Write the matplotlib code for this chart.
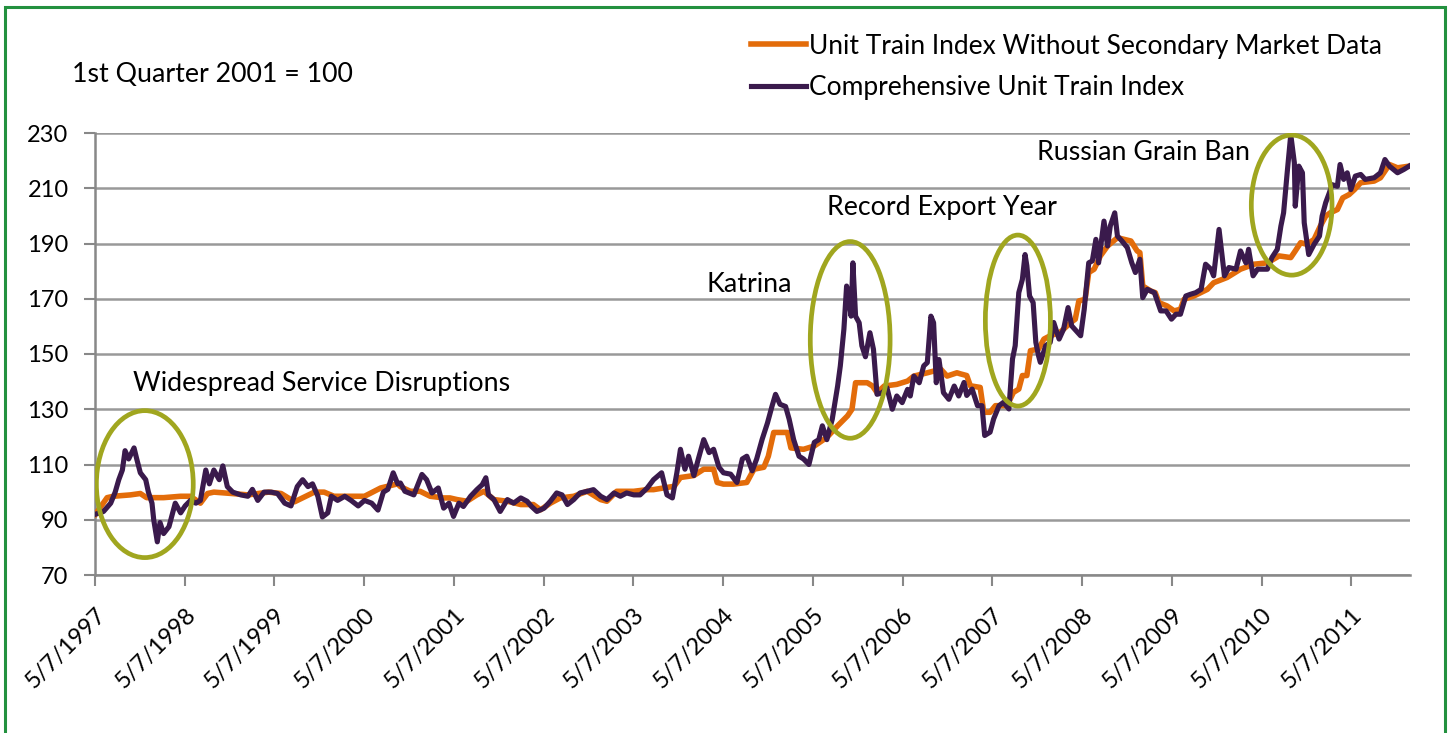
import datetime as dt
import matplotlib
matplotlib.use("Agg")
import matplotlib.pyplot as plt
import matplotlib.dates as mdates
from matplotlib.patches import Ellipse, Rectangle

# values, x as decimal years
comp_years = [1997.35, 1997.44, 1997.52, 1997.57, 1997.61, 1997.65, 1997.68, 1997.72, 1997.78, 1997.81,
              1997.85, 1997.91, 1997.94, 1997.98, 1998.00, 1998.04, 1998.07, 1998.11, 1998.17, 1998.24,
              1998.30, 1998.35, 1998.41, 1998.47, 1998.52, 1998.58, 1998.62, 1998.67, 1998.73, 1998.77,
              1998.82, 1998.88, 1998.97, 1999.05, 1999.10, 1999.16, 1999.23, 1999.31, 1999.38, 1999.46,
              1999.53, 1999.60, 1999.66, 1999.72, 1999.77, 1999.83, 1999.88, 1999.94, 1999.98, 2000.05,
              2000.13, 2000.20, 2000.28, 2000.35, 2000.43, 2000.50, 2000.56, 2000.61, 2000.67, 2000.72,
              2000.75, 2000.80, 2000.90, 2000.99, 2001.04, 2001.10, 2001.17, 2001.23, 2001.29, 2001.34,
              2001.40, 2001.45, 2001.53, 2001.60, 2001.66, 2001.70, 2001.73, 2001.79, 2001.86, 2001.94,
              2002.01, 2002.09, 2002.16, 2002.21, 2002.27, 2002.35, 2002.42, 2002.49, 2002.55, 2002.61,
              2002.68, 2002.75, 2002.83, 2002.90, 2002.98, 2003.05, 2003.13, 2003.20, 2003.27, 2003.35,
              2003.42, 2003.50, 2003.57, 2003.66, 2003.72, 2003.78, 2003.83, 2003.87, 2003.92, 2003.96,
              2004.02, 2004.07, 2004.13, 2004.19, 2004.24, 2004.30, 2004.35, 2004.43, 2004.50, 2004.56,
              2004.61, 2004.67, 2004.72, 2004.78, 2004.84, 2004.89, 2004.93, 2004.98, 2005.04, 2005.08,
              2005.13, 2005.19, 2005.24, 2005.30, 2005.36, 2005.41, 2005.45, 2005.50, 2005.56, 2005.62,
              2005.65, 2005.69, 2005.72, 2005.75, 2005.77, 2005.79, 2005.82, 2005.86, 2005.89, 2005.93,
              2005.98, 2006.02, 2006.06, 2006.12, 2006.17, 2006.23, 2006.28, 2006.34, 2006.40, 2006.43,
              2006.47, 2006.53, 2006.58, 2006.62, 2006.66, 2006.69, 2006.72, 2006.75, 2006.80, 2006.86,
              2006.92, 2006.97, 2007.03, 2007.06, 2007.12, 2007.18, 2007.23, 2007.26, 2007.32, 2007.36,
              2007.42, 2007.47, 2007.53, 2007.57, 2007.60, 2007.64, 2007.68, 2007.71, 2007.73, 2007.76,
              2007.80, 2007.83, 2007.86, 2007.88, 2007.94, 2007.99, 2008.03, 2008.09, 2008.14, 2008.19,
              2008.23, 2008.33, 2008.37, 2008.42, 2008.46, 2008.50, 2008.53, 2008.59, 2008.63, 2008.66,
              2008.71, 2008.74, 2008.79, 2008.85, 2008.90, 2008.94, 2008.99, 2009.02, 2009.07, 2009.15,
              2009.22, 2009.28, 2009.34, 2009.39, 2009.44, 2009.50, 2009.55, 2009.61, 2009.67, 2009.72,
              2009.78, 2009.81, 2009.87, 2009.93, 2009.98, 2010.06, 2010.11, 2010.17, 2010.20, 2010.25,
              2010.30, 2010.35, 2010.41, 2010.46, 2010.52, 2010.56, 2010.59, 2010.63, 2010.67, 2010.71,
              2010.72, 2010.76, 2010.80, 2010.82, 2010.87, 2010.93, 2010.99, 2011.02, 2011.06, 2011.10,
              2011.13, 2011.19, 2011.22, 2011.26, 2011.30, 2011.34, 2011.39, 2011.45, 2011.50, 2011.60,
              2011.67, 2011.72, 2011.77, 2011.86, 2011.93, 2011.99]
comp_vals = [92, 93, 96, 100, 104.5, 108, 115, 112, 116, 112,
             107, 104.5, 100, 96, 90, 82, 89, 85, 87.5, 96,
             92.5, 95, 97, 96, 97, 108, 103, 108, 104.5, 109.5,
             102, 100, 99, 98.5, 101, 97, 100, 100, 99.5, 96,
             95, 102, 104.5, 102, 103, 98.5, 91, 92.5, 98.5, 97,
             98.5, 97, 95, 97, 96, 93.5, 100, 101, 107, 103,
             103.3, 100.3, 99, 106.4, 104.5, 99.7, 101.5, 94.2, 96, 91.2,
             96, 94.8, 98.5, 100.9, 102.7, 105.2, 99, 97.3, 93, 97.3,
             96, 97.9, 96.7, 94.8, 93, 94.2, 96.7, 99.7, 99, 95.5,
             97.3, 99.7, 100.3, 100.9, 98.5, 97.3, 99.7, 98.5, 99.7, 99,
             99, 101.5, 104.5, 107, 99, 97.9, 107, 115.5, 108.3, 113,
             106, 112, 119, 114.3, 115.5, 109, 107, 106.5, 103.5, 112,
             113, 107.7, 112, 119, 125, 131, 135.4, 131.8, 131, 126.4,
             119, 113, 112, 110, 118, 119, 124, 119, 126.4, 138.4,
             145.7, 159, 174.6, 168.6, 163.7, 183, 163.7, 161.3, 153, 149,
             157.7, 151.7, 135.4, 136, 137.8, 130, 134.8, 132.4, 137.2, 134.8,
             142, 139.6, 145.7, 146.9, 163.7, 161.3, 139.6, 148, 136, 133.6,
             138.4, 134.8, 139.7, 135, 137.3, 131.3, 131.3, 120.5, 121.7, 126.5,
             131.3, 132.5, 130.1, 148.2, 153, 172.2, 177, 186, 181.9, 171,
             168.6, 154.2, 149.4, 147, 153, 154.2, 161.4, 155.4, 159, 166.8,
             160.2, 156.6, 166.2, 183, 183.7, 191.5, 183, 198.1, 189.1, 196.3,
             201.1, 192.7, 190.9, 188.5, 183, 179.5, 184.3, 170.4, 173.4, 172.2,
             165.6, 165.6, 162.6, 164.4, 164.4, 171, 171.6, 172.2, 173.4, 182.5,
             180.7, 178.3, 195.1, 178.3, 181.3, 180.7, 187.3, 183, 187.9, 178.3,
             180.7, 180.7, 180.7, 184.9, 187.9, 196.3, 201.1, 215.6, 229.4, 219.2,
             203.5, 218, 215.6, 197.5, 186, 189.7, 192.7, 199.9, 204.8, 208.3,
             211.3, 210.7, 218.6, 213.2, 215.6, 209.5, 214.4, 215, 213.2, 213.8,
             215.6, 220.4, 218, 215.6, 216.8, 218]

base_years = [1997.35, 1997.48, 1997.55, 1997.74, 1997.85, 1997.92, 1998.11, 1998.30, 1998.41, 1998.52,
              1998.60, 1998.67, 1998.87, 1999.05, 1999.28, 1999.42, 1999.57, 1999.79, 1999.90, 2000.01,
              2000.16, 2000.35, 2000.53, 2000.72, 2000.75, 2000.86, 2000.97, 2001.08, 2001.23, 2001.30,
              2001.38, 2001.49, 2001.60, 2001.68, 2001.79, 2001.94, 2002.09, 2002.23, 2002.31, 2002.42,
              2002.53, 2002.68, 2002.83, 2002.98, 2003.05, 2003.16, 2003.35, 2003.50, 2003.57, 2003.68,
              2003.80, 2003.87, 2004.02, 2004.13, 2004.24, 2004.28, 2004.35, 2004.46, 2004.61, 2004.69,
              2004.80, 2004.85, 2004.91, 2005.06, 2005.10, 2005.24, 2005.36, 2005.50, 2005.62, 2005.73,
              2005.78, 2005.82, 2005.95, 2006.01, 2006.06, 2006.14, 2006.28, 2006.40, 2006.47, 2006.62,
              2006.77, 2006.84, 2006.95, 2006.99, 2007.06, 2007.10, 2007.21, 2007.25, 2007.32, 2007.38,
              2007.51, 2007.58, 2007.64, 2007.68, 2007.73, 2007.77, 2007.86, 2007.92, 2007.99, 2008.10,
              2008.22, 2008.27, 2008.31, 2008.38, 2008.42, 2008.48, 2008.55, 2008.63, 2008.74, 2008.89,
              2008.96, 2008.99, 2009.02, 2009.11, 2009.16, 2009.20, 2009.29, 2009.37, 2009.44, 2009.48,
              2009.59, 2009.74, 2009.81, 2009.96, 2010.11, 2010.26, 2010.41, 2010.54, 2010.67, 2010.72,
              2010.78, 2010.85, 2010.93, 2011.00, 2011.06, 2011.11, 2011.19, 2011.25, 2011.32, 2011.38,
              2011.45, 2011.60, 2011.67, 2011.77, 2011.86, 2011.99]
base_vals = [92, 98, 98.5, 99, 99.5, 98, 98, 98.5, 98.5, 96,
             99.5, 100, 99.5, 99, 100, 99.5, 96.5, 100, 100, 98.5,
             98.5, 98.5, 101.5, 103, 102, 100.3, 100.3, 98.5, 97.9, 97.9,
             97.3, 96.7, 99, 100.3, 97.3, 96.7, 95.5, 95.5, 93.6, 96,
             97.9, 98.5, 100.3, 97.3, 96.7, 100.3, 100.3, 100.9, 100.9, 101.5,
             102.1, 105.3, 106, 108.3, 108.3, 103.5, 102.9, 102.9, 103.5, 108.3,
             109, 113, 121.6, 121.6, 116, 115.5, 116.7, 119.8, 124, 127.6,
             130, 139.6, 139.6, 138.4, 136, 138.4, 139, 140.2, 142, 143.2,
             144.5, 142, 143.2, 142.8, 142.2, 138.5, 137.9, 128.9, 128.9, 131.3,
             131.3, 136.1, 137.3, 142.2, 142.2, 151.2, 151.8, 155.4, 156.6, 157.8,
             161.4, 162.6, 169.2, 169.8, 179.5, 180.7, 185.5, 189.1, 192.1, 190.9,
             187.3, 186.7, 174.6, 172.8, 172.2, 168.6, 167.4, 165.6, 166.2, 169.8,
             171, 173.4, 175.8, 177.7, 180.7, 182.5, 183, 185.5, 184.9, 187.3,
             190.3, 189.7, 191.5, 196.3, 199.9, 201.1, 202.3, 206.5, 207.7, 209.5,
             212, 212.6, 213.8, 218.6, 217.4, 218]

base_label = "Unit Train Index Without Secondary Market Data"
comp_label = "Comprehensive Unit Train Index"
tick_years = list(range(1997, 2012))

# event circles: (centre year, centre value, width in years, height in index points)
events = ["Widespread Service Disruptions", "Katrina", "Record Export Year", "Russian Grain Ban"]
event_text_pos = [(1997.77, 139.5), (2004.16, 175.0), (2005.50, 203.0), (2007.84, 222.8)]
event_circles = [(1997.90, 102.9, 1.08, 53.2), (2005.76, 155.1, 0.89, 71.2),
                 (2007.63, 162.1, 0.725, 61.9), (2010.68, 203.9, 0.90, 50.7)]


def to_date(y):
    yr = int(y)
    return dt.datetime(yr, 1, 1) + dt.timedelta(days=(y - yr) * 365.25)


plt.rcParams['font.family'] = ['Lato', 'DejaVu Sans']

fig = plt.figure(figsize=(14.5, 7.33), dpi=100)
ax = fig.add_axes([95 / 1450, 1 - 575 / 733, 1315 / 1450, 442 / 733])

ax.plot([to_date(y) for y in base_years], base_vals, color='#e36c0a', lw=4.0,
        solid_joinstyle='round', label=base_label, zorder=3)
ax.plot([to_date(y) for y in comp_years], comp_vals, color='#3a1a4c', lw=3.7,
        solid_joinstyle='round', label=comp_label, zorder=4)

for (cx, cy, w, h) in event_circles:
    left = mdates.date2num(to_date(cx - w / 2))
    right = mdates.date2num(to_date(cx + w / 2))
    ax.add_patch(Ellipse((mdates.date2num(to_date(cx)), cy), right - left, h,
                         fill=False, edgecolor='#a0a61f', lw=3.4, zorder=5))

for txt, (tx, ty) in zip(events, event_text_pos):
    ax.text(to_date(tx), ty, txt, fontsize=19.3, va='center', ha='left', color='black', zorder=6)

ax.set_ylim(70, 230)
ax.set_yticks(range(70, 231, 20))
ax.set_xlim(dt.datetime(1997, 5, 7), to_date(2012.0))
ax.set_xticks([dt.datetime(y, 5, 7) for y in tick_years])
ax.set_xticklabels(["5/7/%d" % y for y in tick_years], rotation=45, ha='right',
                   va='top', rotation_mode='anchor', fontsize=17)
ax.tick_params(axis='y', labelsize=17, length=8, width=1.5, color='#888888', pad=11)
ax.tick_params(axis='x', length=8, width=1.5, color='#888888', pad=13)

ax.grid(axis='y', color='#999999', lw=1.8)
ax.set_axisbelow(True)
for s in ['top', 'right']:
    ax.spines[s].set_visible(False)
for s in ['left', 'bottom']:
    ax.spines[s].set_color('#888888')
    ax.spines[s].set_linewidth(1.8)

fig.text(72 / 1450, 1 - 75 / 733, "1st Quarter 2001 = 100", fontsize=19.3, va='center', ha='left')

fig.legend(loc='upper left', bbox_to_anchor=(740 / 1450, 1 - 23 / 733), frameon=False,
           fontsize=19, handlelength=2.1, handletextpad=0.1, labelspacing=0.62,
           borderaxespad=0)

fig.patches.append(Rectangle((5 / 1450, -0.05), 1440 / 1450, 1 - 7 / 733 + 0.05,
                             transform=fig.transFigure, fill=False, edgecolor='#23913f', lw=2.2))

fig.savefig("out.png", dpi=100)
